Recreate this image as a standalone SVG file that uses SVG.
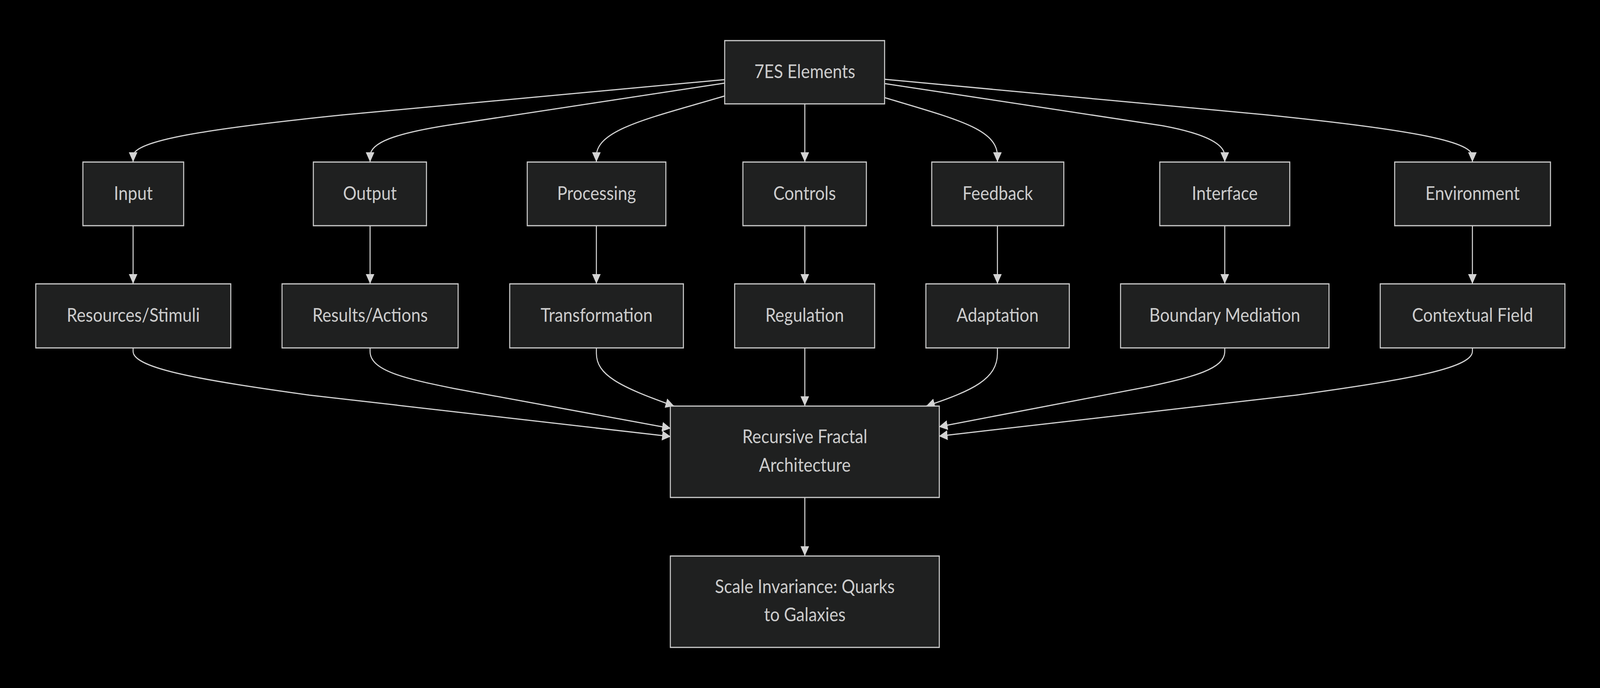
<svg xmlns="http://www.w3.org/2000/svg" width="4652" height="1762" viewBox="0 0 4652 1762" preserveAspectRatio="none" style="width:100vw;height:100vh;display:block">
<style>
.node rect{fill:#1f2020;stroke:#cccccc;stroke-width:3}
.node text{fill:#cccccc;font-family:Lato,"Liberation Sans",sans-serif;font-size:49px;text-anchor:middle}
.edge{fill:none;stroke:#d3d3d3;stroke-width:3}
</style>
<defs>
<marker id="arrow" viewBox="0 0 10 10" refX="10" refY="5" markerUnits="userSpaceOnUse" markerWidth="25" markerHeight="25" orient="auto">
<path d="M0,0 L10,5 L0,10 z" fill="#d3d3d3"/>
</marker>
</defs>
<rect x="0" y="0" width="4652" height="1762" fill="#000000"/>
<g id="connectors">
<path class="edge" marker-end="url(#arrow)" d="M2106,204 L1000,294 C600,330 387,360 387,400 L387,415"/>
<path class="edge" marker-end="url(#arrow)" d="M2106,213 L1300,321 C1150,342 1076,365 1076,400 L1076,415"/>
<path class="edge" marker-end="url(#arrow)" d="M2106,246 C1900,300 1734,330 1734,400 L1734,415"/>
<path class="edge" marker-end="url(#arrow)" d="M2340,266 L2340,415"/>
<path class="edge" marker-end="url(#arrow)" d="M2572,250 C2780,305 2900,330 2900,400 L2900,415"/>
<path class="edge" marker-end="url(#arrow)" d="M2572,214 L3380,322 C3490,340 3561,365 3561,400 L3561,415"/>
<path class="edge" marker-end="url(#arrow)" d="M2572,203 L3680,294 C4080,330 4281,360 4281,400 L4281,415"/>
<path class="edge" marker-end="url(#arrow)" d="M387,578 L387,727"/>
<path class="edge" marker-end="url(#arrow)" d="M1076,578 L1076,727"/>
<path class="edge" marker-end="url(#arrow)" d="M1734,578 L1734,727"/>
<path class="edge" marker-end="url(#arrow)" d="M2340,578 L2340,727"/>
<path class="edge" marker-end="url(#arrow)" d="M2900,578 L2900,727"/>
<path class="edge" marker-end="url(#arrow)" d="M3561,578 L3561,727"/>
<path class="edge" marker-end="url(#arrow)" d="M4281,578 L4281,727"/>
<path class="edge" marker-end="url(#arrow)" d="M387,891 L387,900 C387,945 600,975 900,1012 L1950,1118"/>
<path class="edge" marker-end="url(#arrow)" d="M1076,891 L1076,900 C1076,950 1180,970 1320,995 L1950,1097"/>
<path class="edge" marker-end="url(#arrow)" d="M1734,891 L1734,905 C1734,960 1800,990 1960,1040"/>
<path class="edge" marker-end="url(#arrow)" d="M2340,891 L2340,1040"/>
<path class="edge" marker-end="url(#arrow)" d="M2900,891 L2900,905 C2900,970 2830,1000 2693,1040"/>
<path class="edge" marker-end="url(#arrow)" d="M3561,891 L3561,900 C3561,945 3470,965 3340,990 L2730,1093"/>
<path class="edge" marker-end="url(#arrow)" d="M4281,891 L4281,900 C4281,945 4068,975 3768,1012 L2730,1117"/>
<path class="edge" marker-end="url(#arrow)" d="M2340,1274 L2340,1424"/>
</g>
<g id="n-7es" class="node"><rect x="2107" y="104" width="465" height="162"/><text x="2340" y="200">7ES Elements</text></g>
<g id="n-input" class="node"><rect x="241" y="415" width="293" height="163"/><text x="387.5" y="512">Input</text></g>
<g id="n-output" class="node"><rect x="911" y="415" width="329" height="163"/><text x="1075.5" y="512">Output</text></g>
<g id="n-processing" class="node"><rect x="1533" y="415" width="403" height="163"/><text x="1734.5" y="512">Processing</text></g>
<g id="n-controls" class="node"><rect x="2160" y="415" width="359" height="163"/><text x="2339.5" y="512">Controls</text></g>
<g id="n-feedback" class="node"><rect x="2709" y="415" width="384" height="163"/><text x="2901" y="512">Feedback</text></g>
<g id="n-interface" class="node"><rect x="3372" y="415" width="378" height="163"/><text x="3561" y="512">Interface</text></g>
<g id="n-environment" class="node"><rect x="4055" y="415" width="453" height="163"/><text x="4281.5" y="512">Environment</text></g>
<g id="n-resources" class="node"><rect x="104" y="727" width="567" height="164"/><text x="387.5" y="824">Resources/Stimuli</text></g>
<g id="n-results" class="node"><rect x="820" y="727" width="512" height="164"/><text x="1076" y="824">Results/Actions</text></g>
<g id="n-transformation" class="node"><rect x="1482" y="727" width="505" height="164"/><text x="1734.5" y="824">Transformation</text></g>
<g id="n-regulation" class="node"><rect x="2136" y="727" width="407" height="164"/><text x="2339.5" y="824">Regulation</text></g>
<g id="n-adaptation" class="node"><rect x="2692" y="727" width="417" height="164"/><text x="2900.5" y="824">Adaptation</text></g>
<g id="n-boundary" class="node"><rect x="3258" y="727" width="606" height="164"/><text x="3561" y="824">Boundary Mediation</text></g>
<g id="n-contextual" class="node"><rect x="4013" y="727" width="537" height="164"/><text x="4281.5" y="824">Contextual Field</text></g>
<g id="n-rfa" class="node"><rect x="1949" y="1040" width="782" height="234"/><text x="2340" y="1135">Recursive Fractal</text><text x="2340" y="1208">Architecture</text></g>
<g id="n-scale" class="node"><rect x="1949" y="1424" width="782" height="234"/><text x="2340" y="1519">Scale Invariance: Quarks</text><text x="2340" y="1591">to Galaxies</text></g>
</svg>
